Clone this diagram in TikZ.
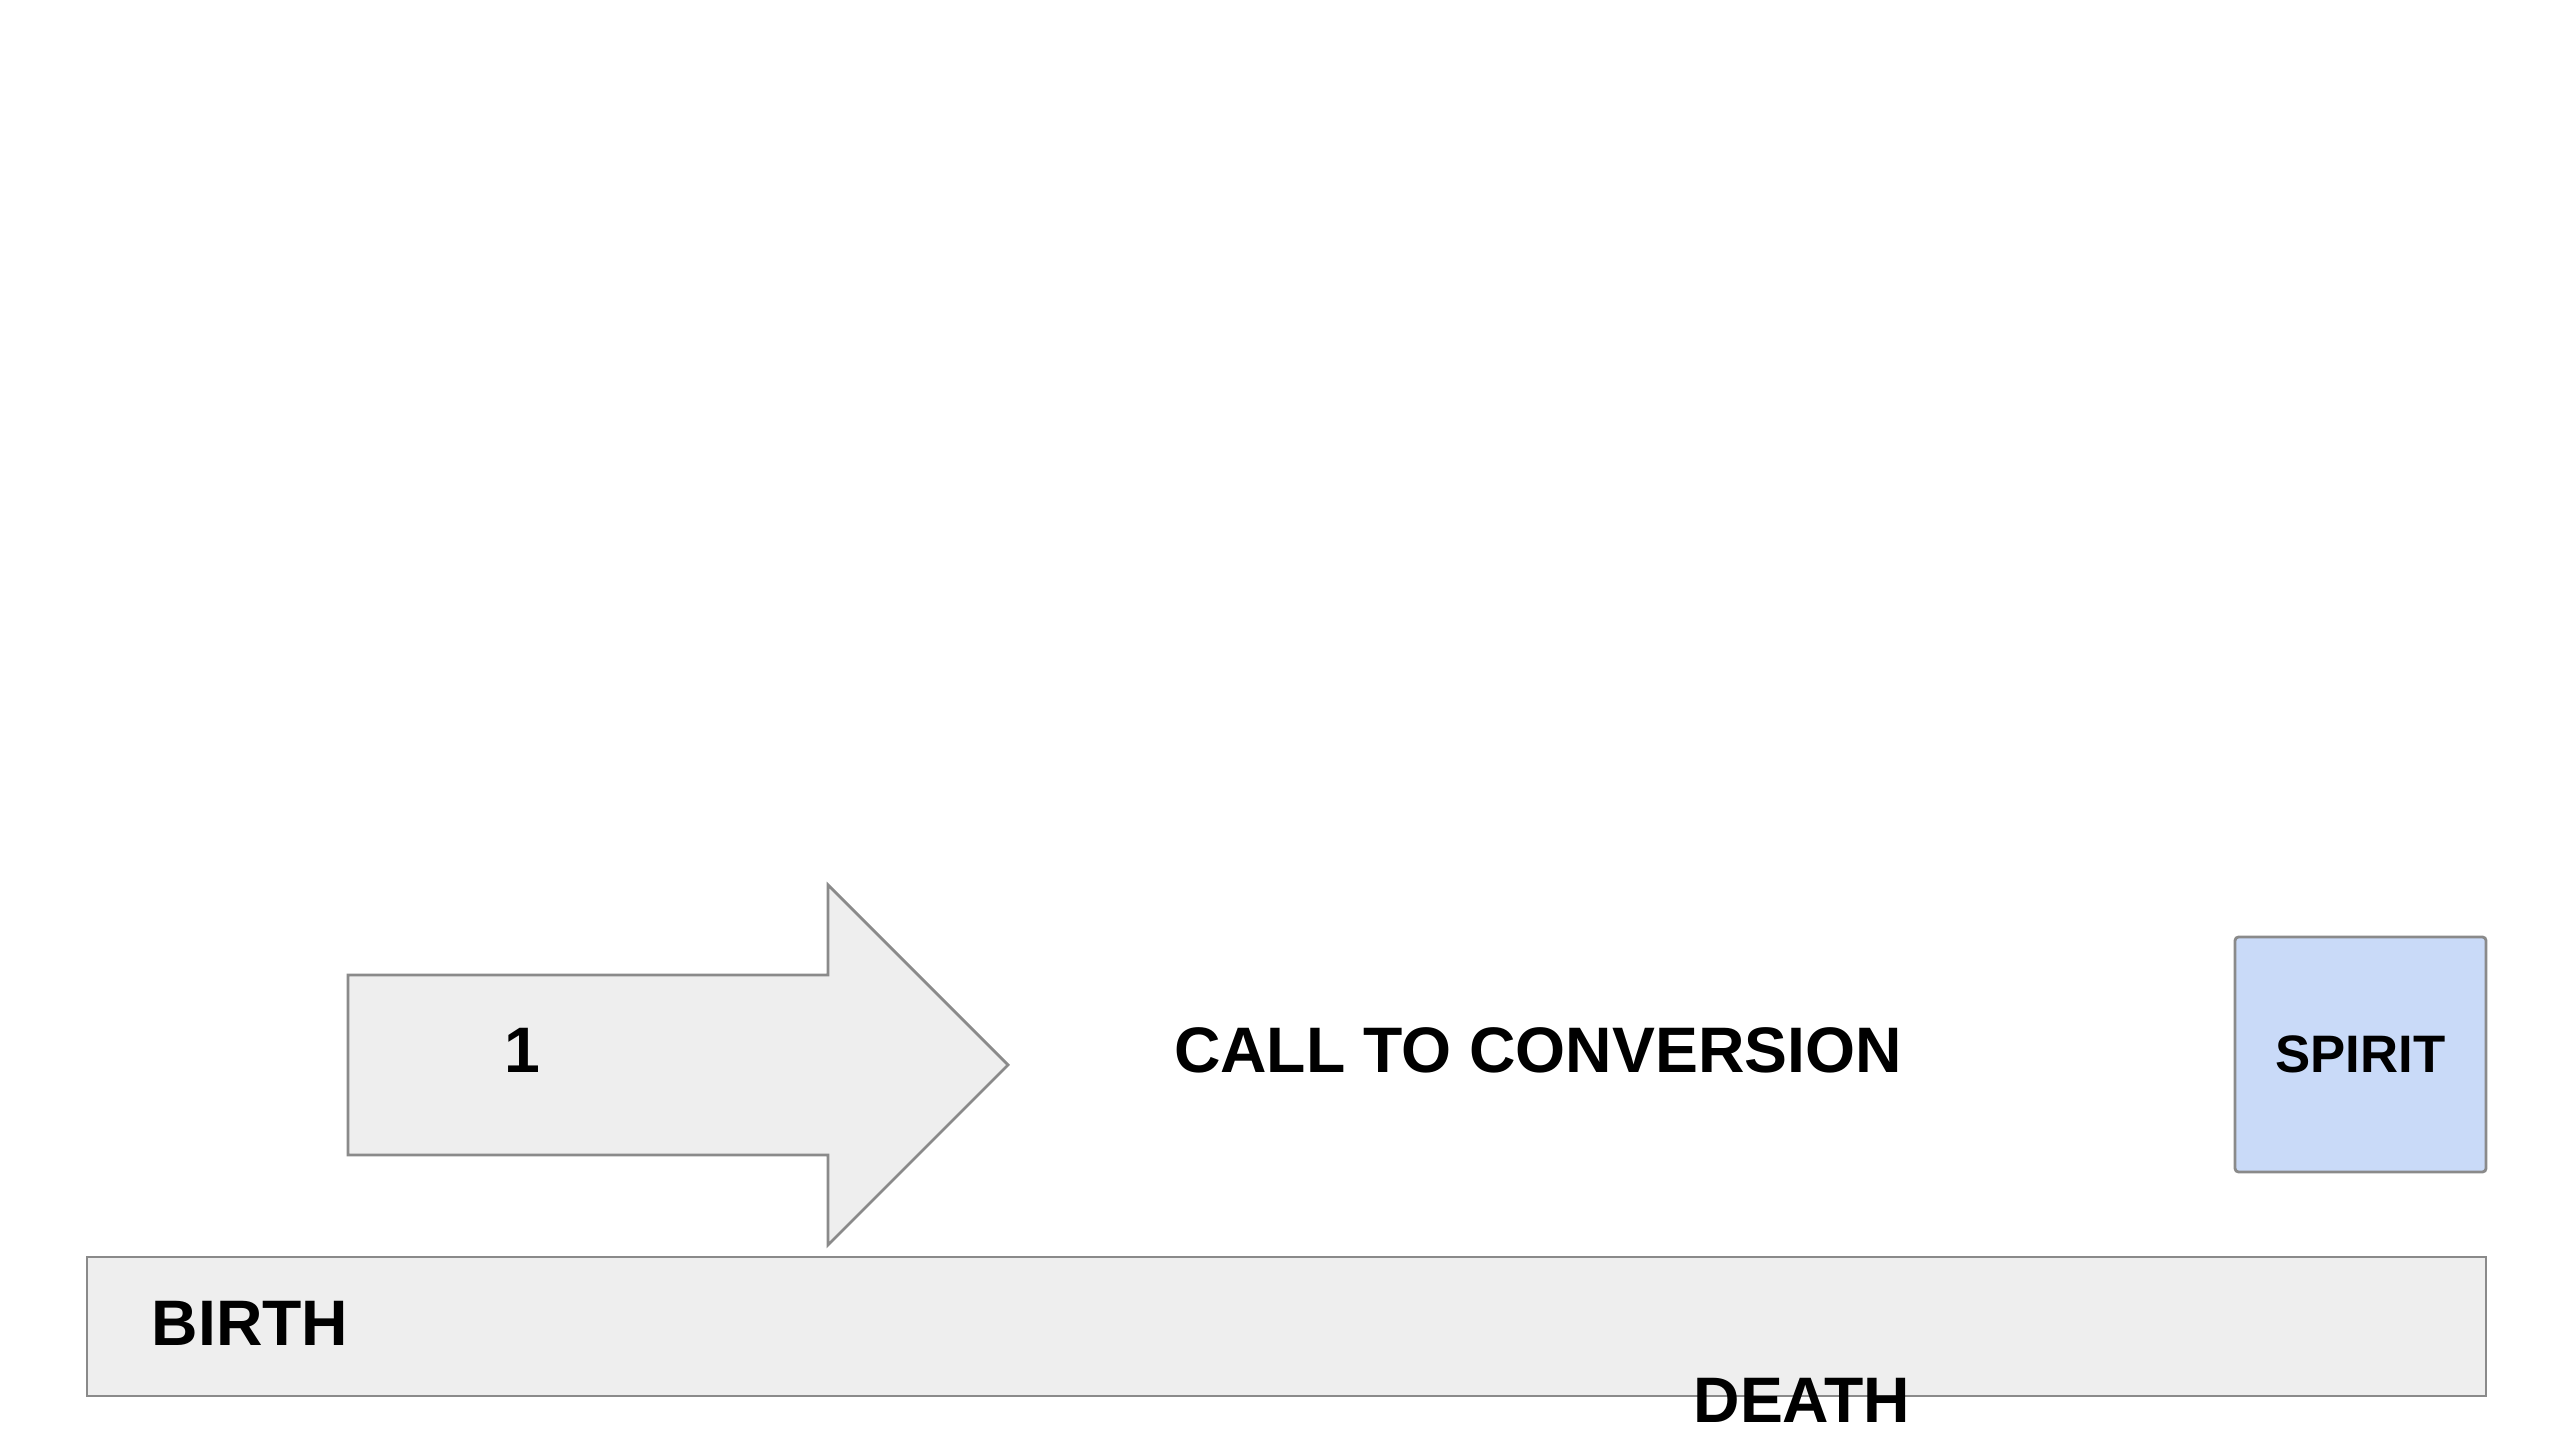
\documentclass[tikz,border=0pt]{standalone}
\usepackage{fontspec}
\setmainfont{Liberation Sans}
\definecolor{boxgray}{HTML}{EEEEEE}
\definecolor{linegray}{HTML}{8A8A8A}
\definecolor{spiritblue}{HTML}{C9DAF8}
\begin{document}
\begin{tikzpicture}
                \tikzset{box/.style = {shape=rectangle,draw=linegray,line width=0.8pt,fill=boxgray,inner sep=0pt}}
                \tikzset{label/.style = {font=\bfseries\fontsize{18.3}{20}\selectfont,inner sep=0pt}}
                \useasboundingbox (0,0) rectangle (25.6,14.4);

                \node[box, minimum width=23.99cm, minimum height=1.39cm] (life) at (12.865, 1.135) {};
                \node[box, fill=spiritblue, rounded corners=1pt, minimum width=2.51cm, minimum height=2.35cm] (spirit) at (23.605, 3.855) {};

                \draw[draw=linegray, line width=0.8pt, fill=boxgray]
                    (3.48, 4.65) -- (8.28, 4.65) -- (8.28, 5.55) -- (10.08, 3.75)
                    -- (8.28, 1.95) -- (8.28, 2.85) -- (3.48, 2.85) -- cycle;

                \node[label] (one) at (5.22, 3.90) {1};
                \node[label] (call) at (15.38, 3.90) {CALL TO CONVERSION};
                \node[label, font=\bfseries\fontsize{15}{17}\selectfont] (spiritname) at (spirit) {SPIRIT};
                \node[label] (birth) at (2.50, 1.17) {BIRTH};
                \node[label] (death) at (18.02, 0.40) {DEATH};
            \end{tikzpicture}
\end{document}
